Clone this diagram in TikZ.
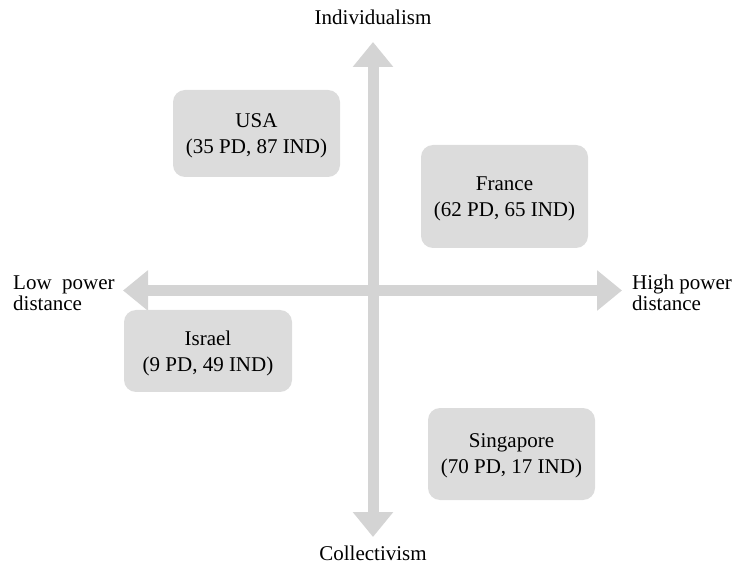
\documentclass[tikz,border=0pt]{standalone}
\usepackage{fontspec}
\setmainfont{Liberation Serif}
\usetikzlibrary{arrows.meta}
\definecolor{arrowgray}{HTML}{D4D4D4}
\definecolor{boxgray}{HTML}{DCDCDC}
\begin{document}
\begin{tikzpicture}[x=1pt,y=-1pt,
  axis/.style={draw=arrowgray,line width=11pt,
    arrows={Triangle[width=39pt,length=25pt,fill=arrowgray]-Triangle[width=39pt,length=25pt,fill=arrowgray]}},
  country/.style={fill=boxgray,rounded corners=12pt,align=center,inner sep=0pt,
    minimum width=167pt,text depth=0pt,font=\fontsize{21}{26}\selectfont},
  lbl/.style={inner sep=0pt,font=\fontsize{21}{21}\selectfont,align=left}]
\useasboundingbox (0,0) rectangle (734,569);
\coordinate (top) at (373,42);
\coordinate (bot) at (373,537);
\coordinate (lft) at (123,290.5);
\coordinate (rgt) at (622,290.5);
\draw[axis] (lft) -- (rgt);
\draw[axis] (bot) -- (top);
\node[lbl,anchor=base] (ind) at (373,25) {Individualism};
\node[lbl,anchor=base] (col) at (373,560) {Collectivism};
\node[lbl,anchor=west] (low) at (13,293) {Low\ \ power\\distance};
\node[lbl,anchor=west] (high) at (632,293) {High power\\distance};
\node[country,minimum height=87pt] (usa) at (256.5,133.5) {USA\\(35 PD, 87 IND)};
\node[country,minimum height=103pt] (fra) at (504.5,196.5) {France\\(62 PD, 65 IND)};
\node[country,minimum height=82pt,minimum width=168pt] (isr) at (208,351) {Israel\\(9 PD, 49 IND)};
\node[country,minimum height=92pt] (sing) at (511.5,454) {Singapore\\(70 PD, 17 IND)};
\end{tikzpicture}
\end{document}
